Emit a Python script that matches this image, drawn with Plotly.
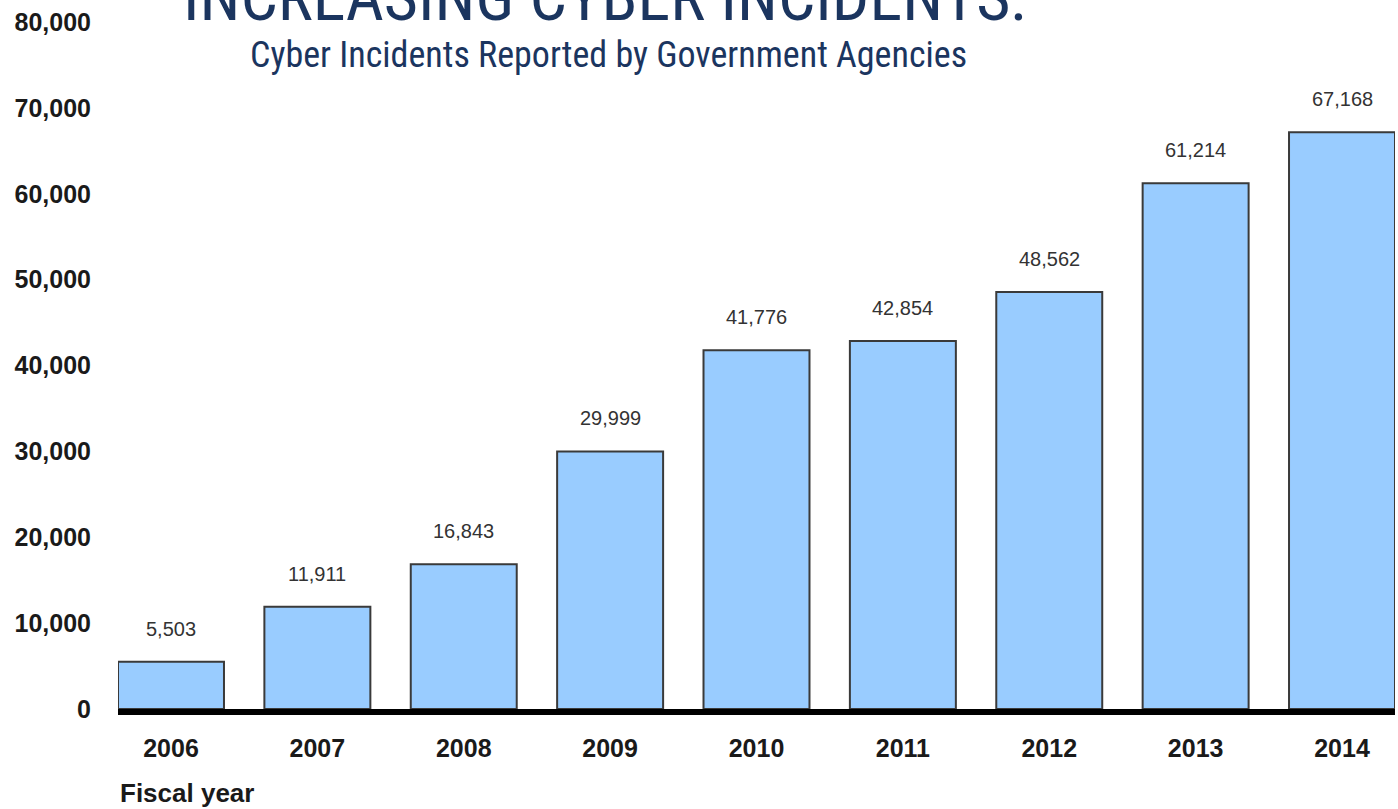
import plotly.graph_objects as go

years = ["2006", "2007", "2008", "2009", "2010", "2011", "2012", "2013", "2014"]
incidents = [5503, 11911, 16843, 29999, 41776, 42854, 48562, 61214, 67168]
value_labels = ["5,503", "11,911", "16,843", "29,999", "41,776", "42,854", "48,562", "61,214", "67,168"]
y_ticks = [0, 10000, 20000, 30000, 40000, 50000, 60000, 70000, 80000]
y_tick_labels = ["0", "10,000", "20,000", "30,000", "40,000", "50,000", "60,000", "70,000", "80,000"]

fig = go.Figure()
fig.add_trace(go.Bar(
    x=years, y=incidents,
    marker=dict(color="#99ccff", line=dict(color="#3a3a3a", width=2)),
    hoverinfo="skip",
))

for i, (v, lab) in enumerate(zip(incidents, value_labels)):
    fig.add_annotation(x=i, y=v, xref="x", yref="y", text=lab, showarrow=False, yanchor="bottom",
                       yshift=20, font=dict(family="Liberation Sans, Arial", size=20, color="#333333"))

navy = "#1b355f"
cond = "Roboto Condensed, Liberation Sans Narrow, Liberation Sans"
fig.add_annotation(xref="paper", yref="paper", x=0.381, y=1.0, yanchor="bottom", yshift=-16,
                   text="INCREASING CYBER INCIDENTS:", showarrow=False,
                   font=dict(family=cond, size=66, color=navy))
fig.add_annotation(xref="paper", yref="paper", x=0.384, y=1.0, yanchor="middle", yshift=-33,
                   text="Cyber Incidents Reported by Government Agencies", showarrow=False,
                   font=dict(family=cond, size=36, color=navy))
fig.add_annotation(xref="paper", yref="paper", x=0.0, y=0.0, xanchor="left", yanchor="middle", yshift=-84,
                   text="<b>Fiscal year</b>", showarrow=False,
                   font=dict(family="Liberation Sans, Arial", size=26, color="#1a1a1a"))

fig.update_layout(
    width=1398, height=809,
    margin=dict(l=118, r=3, t=22, b=100),
    paper_bgcolor="white", plot_bgcolor="white",
    bargap=0.276,
    showlegend=False,
    xaxis=dict(type="category", range=[-0.362, 8.362], showline=True, linecolor="black", linewidth=6,
               showgrid=False, ticks="", ticklabelstandoff=12,
               tickfont=dict(family="Liberation Sans, Arial", size=25, color="#1a1a1a"),
               tickvals=years, ticktext=["<b>%s</b>" % y for y in years]),
    yaxis=dict(range=[0, 80000], showgrid=False, zeroline=False, showline=False, ticks="",
               tickvals=y_ticks, ticktext=["<b>%s</b>" % t for t in y_tick_labels], ticklabelstandoff=26,
               tickfont=dict(family="Liberation Sans, Arial", size=25, color="#1a1a1a")),
)

fig.write_html("out.html", config={"displayModeBar": False},
               post_script="document.body.style.margin='0';document.body.style.overflow='hidden';")
